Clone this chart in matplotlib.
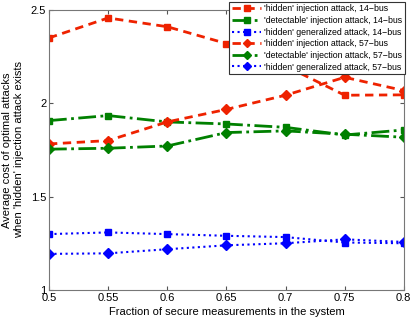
import matplotlib
matplotlib.use("Agg")
import matplotlib.pyplot as plt

plt.rcParams['font.family'] = ['Liberation Sans', 'DejaVu Sans']

x = [0.5, 0.55, 0.6, 0.65, 0.7, 0.75, 0.8]
hid_inj_14 = [2.35, 2.457, 2.41, 2.32, 2.20, 2.043, 2.045]
det_inj_14 = [1.907, 1.934, 1.90, 1.889, 1.871, 1.83, 1.857]
hid_gen_14 = [1.299, 1.308, 1.299, 1.29, 1.283, 1.254, 1.25]
hid_inj_57 = [1.782, 1.80, 1.90, 1.967, 2.043, 2.139, 2.068]
det_inj_57 = [1.754, 1.759, 1.771, 1.843, 1.852, 1.834, 1.818]
hid_gen_57 = [1.193, 1.196, 1.218, 1.239, 1.25, 1.271, 1.257]

labels = ["'hidden' injection attack, 14\u2212bus",
          "'detectable' injection attack, 14\u2212bus",
          "'hidden' generalized attack, 14\u2212bus",
          "'hidden' injection attack, 57\u2212bus",
          "'detectable' injection attack, 57\u2212bus",
          "'hidden' generalized attack, 57\u2212bus"]

red = '#ee2200'
green = '#008000'
blue = '#0000ff'

fig = plt.figure(figsize=(4.15, 3.2), dpi=100)
ax = fig.add_axes([0.118, 0.094, 0.855, 0.875])

ax.plot(x, hid_inj_14, ls=(0, (3, 2)), color=red, lw=2, marker='s', ms=5, label=labels[0])
ax.plot(x, det_inj_14, ls='-.', color=green, lw=2, marker='s', ms=5, label=labels[1])
ax.plot(x, hid_gen_14, ls=':', color=blue, lw=1.5, marker='s', ms=5, label=labels[2])
ax.plot(x, hid_inj_57, ls=(0, (3, 2)), color=red, lw=2, marker='D', ms=5, label=labels[3])
ax.plot(x, det_inj_57, ls='-.', color=green, lw=2, marker='D', ms=5, label=labels[4])
ax.plot(x, hid_gen_57, ls=':', color=blue, lw=1.5, marker='D', ms=5, label=labels[5])

ax.set_xlim(0.5, 0.8)
ax.set_ylim(1, 2.5)
ax.set_xticks([0.5, 0.55, 0.6, 0.65, 0.7, 0.75, 0.8])
ax.set_xticklabels(['0.5', '0.55', '0.6', '0.65', '0.7', '0.75', '0.8'])
ax.set_yticks([1, 1.5, 2, 2.5])
ax.set_yticklabels(['1', '1.5', '2', '2.5'])
ax.tick_params(direction='in', top=True, right=True, labelsize=8, length=3, color='#555555', pad=2)
for s in ax.spines.values():
    s.set_color('#777777')
ax.set_xlabel('Fraction of secure measurements in the system', fontsize=8, labelpad=3)
ax.set_ylabel("Average cost of optimal attacks\nwhen 'hidden' injection attack exists", fontsize=8, labelpad=5)

leg = ax.legend(loc='upper right', bbox_to_anchor=(1.003, 1.029), fontsize=6.3,
                frameon=True, fancybox=False, edgecolor='#333333', framealpha=1,
                borderpad=0.3, labelspacing=0.3, handlelength=3.4, handletextpad=0.3,
                borderaxespad=0, markerscale=0.9)
leg.get_frame().set_linewidth(0.8)

fig.savefig('out.png', dpi=100)
